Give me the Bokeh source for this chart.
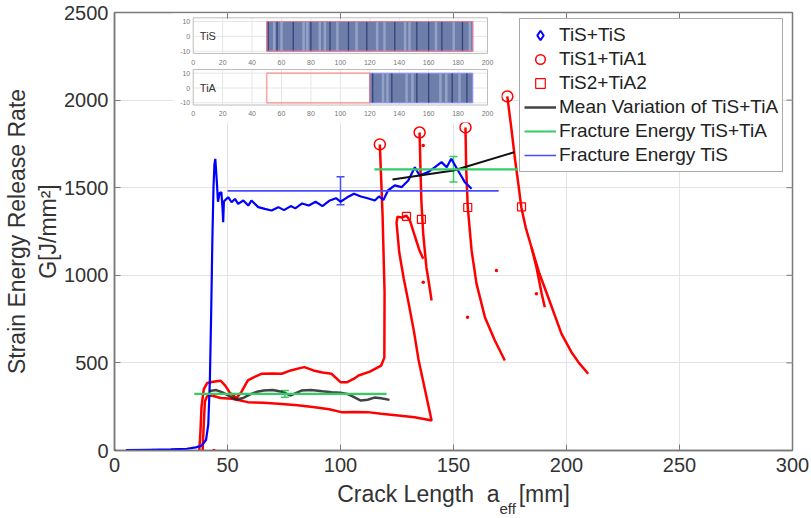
import math
from bokeh.plotting import figure
from bokeh.models import (Range1d, FixedTicker, Legend, LegendItem, Title,
                          Whisker, TeeHead, ColumnDataSource)
from bokeh.core.properties import value
from bokeh.embed import file_html
from bokeh.resources import INLINE

# ---------------- data ----------------
x_ticks = [0, 50, 100, 150, 200, 250, 300]
y_ticks = [0, 500, 1000, 1500, 2000, 2500]

# TiS+TiS measured curve (blue)
tis_pts = [(5, 2), (15, 4), (25, 6), (32, 10), (36, 18), (38.5, 28), (40.5, 60), (41.5, 150),
           (42.2, 400), (42.8, 800), (43.3, 1200), (43.8, 1500), (44.2, 1630), (44.6, 1665),
           (45.2, 1550), (45.8, 1420), (46.5, 1470), (47.3, 1474), (47.8, 1380), (48.1, 1303),
           (48.4, 1420), (48.8, 1427), (50.3, 1446), (51.8, 1417), (53.3, 1436), (54.7, 1408),
           (57.0, 1427), (59.2, 1398), (60.6, 1427), (63.6, 1389), (66.5, 1379), (69.5, 1370),
           (72.5, 1389), (75, 1372), (78, 1395), (80, 1382), (83, 1410), (86, 1398), (89, 1420),
           (92, 1395), (95, 1425), (98, 1440), (100, 1420), (103, 1445), (106, 1465), (109, 1450),
           (112, 1440), (115.2, 1427), (117, 1450), (119, 1430), (121, 1484), (124, 1513),
           (127, 1503), (130, 1541), (132.9, 1617), (135, 1570), (138.8, 1589), (141.8, 1617),
           (144.7, 1646), (147, 1617), (149, 1665), (152, 1598), (155, 1532), (158, 1494)]

# TiS1+TiA1 / TiS2+TiA2 measured curves (red)
red_1 = [(37.5, 0), (38, 100), (38.5, 250), (39.5, 350), (41, 385), (43.7, 392), (47, 398),
         (49, 370), (51, 330), (54, 300), (56, 330), (59, 400), (62, 420), (65, 438), (70, 440),
         (74, 438), (78, 457), (82, 470), (84, 476), (88, 457), (92, 445), (96, 438), (100, 390),
         (103, 390), (106, 410), (108, 428), (113, 450), (118, 485), (119.4, 530), (119.5, 900),
         (118.6, 1350), (117.4, 1747)]
red_2 = [(39, 0), (39.5, 150), (40, 280), (41, 310), (43, 314), (47, 300), (52, 295), (59, 276),
         (66, 272), (74, 266), (81, 258), (88.6, 247), (95, 235), (100.4, 219), (106, 220),
         (112, 219), (118, 210), (125.5, 200), (132.8, 190), (137, 180), (140.3, 171),
         (138.5, 280), (136.5, 400), (134.5, 520), (132.5, 680), (130, 850), (128, 980),
         (126, 1130), (124.8, 1300), (125.2, 1335), (127, 1330), (129.2, 1340), (130.7, 1313),
         (133, 1220), (135, 1140), (136.6, 1095)]
red_3 = [(135, 1815), (135.4, 1600), (135.8, 1420), (136.6, 1237), (138, 1046), (139.2, 950),
         (140.3, 856)]
red_4 = [(155.3, 1844), (155.6, 1617), (156.3, 1390), (158, 1142), (160.2, 951), (163.9, 761),
         (168.3, 628), (172.7, 514)]
red_5 = [(173.8, 2021), (175.5, 1850), (177.1, 1674), (178.6, 1530), (180, 1389), (182, 1270),
         (184.5, 1160), (186.7, 1046), (189, 896), (190.4, 818)]
red_6 = [(184.5, 1160), (188, 1010), (191.9, 875), (197.8, 666), (202.2, 561), (205.5, 500),
         (209.6, 438)]
red_dots = [(0, 0), (17, 0), (25, 0), (29, 0), (44, 0), (136.6, 1741), (136.6, 961),
            (156.2, 761), (169, 1027), (186.7, 894)]

# peak markers
peak_x = [117.4, 135, 155.3, 173.8]
peak_y = [1747, 1815, 1844, 2021]
square_x = [129.2, 135.8, 156.3, 180.1]
square_y = [1336, 1319, 1387, 1391]

# mean variation of TiS+TiA
mean_lo = [(42, 340), (45, 345), (48, 330), (51.8, 304), (54, 291), (57, 300), (60, 320),
           (63, 335), (66, 342), (70, 345), (74, 335), (78, 314), (82.7, 342), (87, 345),
           (92, 338), (96, 333), (100, 330), (103, 323), (106, 305), (109, 285), (112, 290),
           (115, 302), (118, 298), (121.7, 289)]
mean_hi = [(123, 1547), (150, 1598), (177, 1703)]

# fracture energies: level, error, x-from, x-to, errorbar position
fe_tis = dict(level=1482, err=80, x0=50, x1=170, xe=100)
fe_mix_hi = dict(level=1605, err=73, x0=115, x1=178.5, xe=150)
fe_mix_lo = dict(level=323, err=19, x0=35.3, x1=120.4, xe=75.4)

# inset (layup sketch)
inset_x_ticks = [0, 20, 40, 60, 80, 100, 120, 140, 160, 180, 200]
inset_y_ticks = [-10, 0, 10]
tis_band = (50, 190)
tia_empty = (50, 120)
tia_band = (120, 190)
tis_dark = [51, 57, 68, 80, 93, 105.5, 118, 137, 152, 160, 169, 183]
tis_light = [55, 60, 75, 77.5, 86, 89.5, 98, 111, 125, 130, 144, 147, 165, 177, 188]
tia_dark = [122, 135, 152, 160, 176, 186]
tia_light = [129, 132, 145, 149, 168, 172, 181]

# ---------------- style ----------------
FONT = "Liberation Sans"
AX = "#7a7a7a"
TXT = "#333333"
RED = "#ff0000"
BLUE = "#0000ff"
GREEN = "#33cc66"
NB = "\u00a0"

X0, X1, Y0, Y1 = 0, 300, 0, 2500
FW, FH = 678, 438
p = figure(frame_width=FW, frame_height=FH, x_range=Range1d(X0, X1), y_range=Range1d(Y0, Y1),
           output_backend="svg", toolbar_location=None,
           min_border_left=113, min_border_right=20, min_border_top=12, min_border_bottom=68)
p.background_fill_color = "white"
p.border_fill_color = "white"
p.outline_line_color = AX
p.outline_line_width = 1.5


def dx(px):  # frame pixels -> x data units
    return X0 + px * (X1 - X0) / FW


def dy(px):  # frame pixels -> y data units
    return Y0 + px * (Y1 - Y0) / FH


for ax, ticks in ((p.xaxis, x_ticks), (p.yaxis, y_ticks)):
    ax.ticker = FixedTicker(ticks=ticks)
    ax.major_tick_in = 6
    ax.major_tick_out = 0
    ax.minor_tick_line_color = None
    ax.axis_line_color = AX
    ax.axis_line_width = 1.5
    ax.major_tick_line_color = AX
    ax.major_label_text_font = FONT
    ax.major_label_text_font_size = "20px"
    ax.major_label_text_color = TXT
    ax.axis_label_text_font = FONT
    ax.axis_label_text_font_size = "23px"
    ax.axis_label_text_font_style = "normal"
    ax.axis_label_text_color = TXT
p.xaxis.major_label_standoff = 7
p.yaxis.major_label_standoff = 6
p.yaxis.axis_label = "Strain Energy Release Rate\nG[J/mm²]"
p.yaxis.axis_label_standoff = 0
p.xaxis.axis_label = "Crack Length" + NB * 2 + "a" + NB * 3 + "[mm]"
p.xaxis.axis_label_standoff = 6

# subscript of a_eff
sub = Title(text="eff", align="left", offset=385, vertical_align="top", text_font=FONT,
            text_font_size="15px", text_font_style="normal", text_color=TXT, standoff=-19)
p.add_layout(sub, "below")

p.xgrid.grid_line_color = "#e3e3e3"
p.ygrid.grid_line_color = "#e3e3e3"


def xs(pts):
    return [q[0] for q in pts]


def ys(pts):
    return [q[1] for q in pts]


# red curves
for pts in (red_1, red_2, red_3, red_4, red_5, red_6):
    p.line(xs(pts), ys(pts), line_color=RED, line_width=2.5)
p.scatter(xs(red_dots), ys(red_dots), size=3.5, color=RED, line_color=None)

# blue curve
p.line(xs(tis_pts), ys(tis_pts), line_color=BLUE, line_width=2.2)

# mean variation
mean_r = p.line(xs(mean_lo), ys(mean_lo), line_color="#222222", line_width=2.5, line_alpha=0.85)
p.line(xs(mean_hi), ys(mean_hi), line_color="#111111", line_width=2)


# fracture energies
def fe_line(d, color, width):
    r = p.line([d["x0"], d["x1"]], [d["level"], d["level"]], line_color=color, line_width=width)
    src = ColumnDataSource(dict(base=[d["xe"]], lower=[d["level"] - d["err"]], upper=[d["level"] + d["err"]]))
    w = Whisker(source=src, base="base", lower="lower", upper="upper", dimension="height",
                line_color=color, line_width=1.5,
                upper_head=TeeHead(size=8, line_color=color, line_width=1.5),
                lower_head=TeeHead(size=8, line_color=color, line_width=1.5))
    p.add_layout(w)
    return r


fe_tis_r = fe_line(fe_tis, "#4a4aff", 1.6)
fe_mix_r = fe_line(fe_mix_hi, GREEN, 2.2)
fe_line(fe_mix_lo, GREEN, 2.2)

circ_r = p.scatter(peak_x, peak_y, marker="circle", size=11, line_color=RED, fill_color=None, line_width=1.5)
sq_r = p.scatter(square_x, square_y, marker="square", size=8, line_color=RED, fill_color=None, line_width=1.2)
diam_r = p.scatter([float("nan")], [float("nan")], marker="diamond", size=12, line_color=BLUE,
                   fill_color=None, line_width=2)


# ---------------- inset ----------------
def make_range(v0, s0, v1, s1, size):
    k = (s1 - s0) / (v1 - v0)
    start = v0 - s0 / k
    return Range1d(start, start + size / k)


p.extra_x_ranges = {"ix": make_range(0, 78.7, 200, 373.0, FW)}
p.extra_y_ranges = {"iys": make_range(-10, 399.3, 10, 429.0, FH),
                    "iya": make_range(-10, 347.7, 10, 377.3, FH)}

p.quad(left=[-13.5], right=[209.5], bottom=[-58], top=[15.4], x_range_name="ix", y_range_name="iys",
       fill_color="white", line_color=None)

x_lo, x_hi = inset_x_ticks[0], inset_x_ticks[-1]
for yr, label, band_list in (("iys", "TiS", [(tis_band, tis_dark, tis_light)]),
                             ("iya", "TiA", [(tia_band, tia_dark, tia_light)])):
    ylo, yhi = inset_y_ticks[0] - 1.5, inset_y_ticks[-1] + 2.5
    n_in = len(inset_x_ticks) - 2
    p.segment(x0=inset_x_ticks[1:-1], x1=inset_x_ticks[1:-1], y0=[ylo] * n_in, y1=[yhi] * n_in,
              x_range_name="ix", y_range_name=yr, line_color="#e6e6e6", line_width=1)
    p.segment(x0=[x_lo] * 3, x1=[x_hi] * 3, y0=inset_y_ticks, y1=inset_y_ticks,
              x_range_name="ix", y_range_name=yr, line_color="#e6e6e6", line_width=1)
    for (b0, b1), dark, light in band_list:
        p.quad(left=[b0], right=[b1], bottom=[inset_y_ticks[0]], top=[inset_y_ticks[-1]],
               x_range_name="ix", y_range_name=yr, fill_color="#6e7eab", line_color="#8c8cff",
               line_width=1)
        p.segment(x0=light, x1=light, y0=[-10] * len(light), y1=[10] * len(light),
                  x_range_name="ix", y_range_name=yr, line_color="#95a2c8", line_width=2.5)
        p.segment(x0=dark, x1=dark, y0=[-10] * len(dark), y1=[10] * len(dark),
                  x_range_name="ix", y_range_name=yr, line_color="#34447a", line_width=1.3)
    p.quad(left=[x_lo], right=[x_hi], bottom=[ylo], top=[yhi], x_range_name="ix", y_range_name=yr,
           fill_color=None, line_color="#bdbdbd", line_width=1)
    p.text(x=inset_x_ticks, y=[ylo - 6] * len(inset_x_ticks), text=[str(t) for t in inset_x_ticks],
           x_range_name="ix", y_range_name=yr, text_font=value(FONT), text_font_size="7px",
           text_color="#777777", text_align="center", text_baseline="middle")
    p.text(x=[-2] * 3, y=inset_y_ticks, text=[str(t) for t in inset_y_ticks],
           x_range_name="ix", y_range_name=yr, text_font=value(FONT), text_font_size="7px",
           text_color="#777777", text_align="right", text_baseline="middle")
    p.text(x=[10], y=[0], text=[label], x_range_name="ix", y_range_name=yr,
           text_font=value(FONT), text_font_size="11px", text_color="#333333",
           text_align="center", text_baseline="middle")

p.quad(left=[tis_band[0]], right=[tis_band[1]], bottom=[-10], top=[10], x_range_name="ix",
       y_range_name="iys", fill_color=None, line_color="#ff7070", line_width=1.2, line_alpha=0.8)
p.quad(left=[tia_empty[0]], right=[tia_empty[1]], bottom=[-10], top=[10], x_range_name="ix",
       y_range_name="iya", fill_color=None, line_color="#ff7070", line_width=1.2, line_alpha=0.8)

# box ticks on the top and right edges (MATLAB style)
p.segment(x0=x_ticks, x1=x_ticks, y0=[Y1] * len(x_ticks), y1=[Y1 - dy(6)] * len(x_ticks),
          line_color=AX, line_width=1)
p.segment(x0=[X1] * len(y_ticks), x1=[X1 - dx(6)] * len(y_ticks), y0=y_ticks, y1=y_ticks,
          line_color=AX, line_width=1)

# ---------------- legend ----------------
legend = Legend(items=[
    LegendItem(label="TiS+TiS", renderers=[diam_r]),
    LegendItem(label="TiS1+TiA1", renderers=[circ_r]),
    LegendItem(label="TiS2+TiA2", renderers=[sq_r]),
    LegendItem(label="Mean Variation of TiS+TiA", renderers=[mean_r]),
    LegendItem(label="Fracture Energy TiS+TiA", renderers=[fe_mix_r]),
    LegendItem(label="Fracture Energy TiS", renderers=[fe_tis_r]),
], location=(405, 278))
legend.label_text_font = FONT
legend.label_text_font_size = "19px"
legend.label_text_color = "#222222"
legend.glyph_width = 32
legend.glyph_height = 24
legend.label_height = 24
legend.spacing = 0
legend.padding = 4
legend.margin = 0
legend.label_standoff = 3
legend.border_line_color = "#555555"
legend.border_line_width = 1
legend.background_fill_color = "white"
legend.background_fill_alpha = 1
p.add_layout(legend)

open("out.html", "w").write(file_html(p, INLINE))
